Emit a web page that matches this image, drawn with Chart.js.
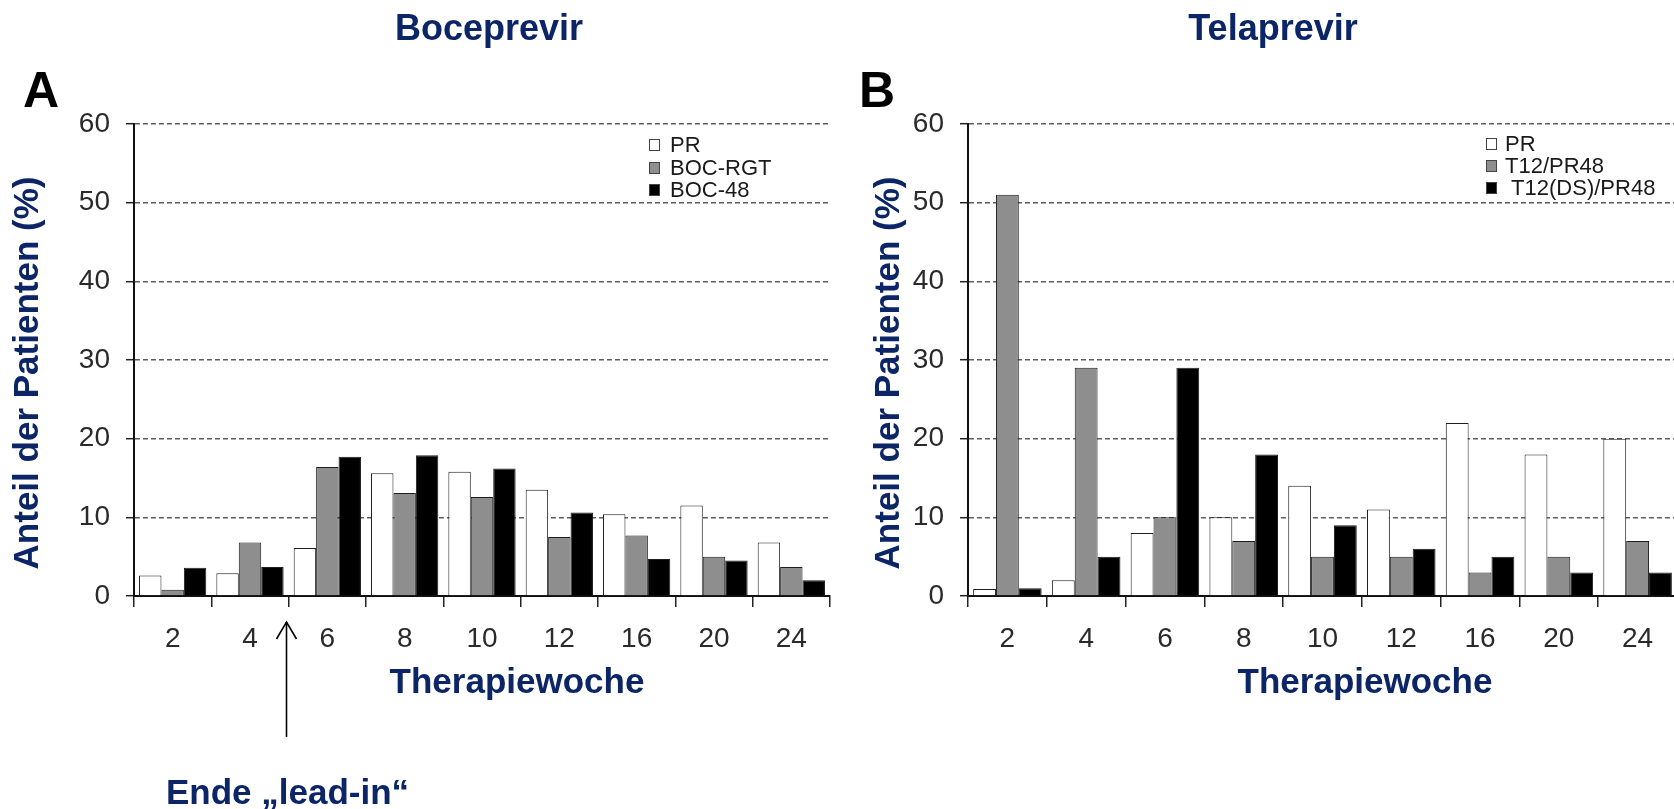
<!DOCTYPE html>
<html lang="de">
<head>
<meta charset="utf-8">
<title>Therapiewoche – Boceprevir / Telaprevir</title>
<script src="https://cdn.jsdelivr.net/npm/chart.js@4.4.1/dist/chart.umd.min.js"></script>
<style>
  html, body { margin: 0; padding: 0; width: 1674px; height: 809px; overflow: hidden; background: #fff; }
  canvas { position: absolute; top: 0; }
  #boc { left: 0; }
  #tel { left: 850px; }
</style>
</head>
<body>
<canvas id="boc" width="840" height="809"></canvas>
<canvas id="tel" width="836" height="809"></canvas>
<script>
// Week categories shared by both panels
const weeks = ['2', '4', '6', '8', '10', '12', '16', '20', '24'];
const yTicks = [0, 10, 20, 30, 40, 50, 60];

// Panel A – Boceprevir (share of patients, %)
const bocNames = ['PR', 'BOC-RGT', 'BOC-48'];
const bocPR  = [2.6, 2.9, 6.1, 15.6, 15.8, 13.5, 10.4, 11.5, 6.8];
const bocRGT = [0.8, 6.8, 16.4, 13.1, 12.6, 7.5, 7.7, 5.0, 3.7];
const boc48  = [3.6, 3.7, 17.7, 17.9, 16.2, 10.6, 4.7, 4.5, 2.0];

// Panel B – Telaprevir (share of patients, %)
const telNames = ['PR', 'T12/PR48', ' T12(DS)/PR48'];
const telPR  = [0.9, 2, 8, 10, 14, 11, 22, 18, 20];
const telT12 = [51, 29, 10, 7, 5, 5, 3, 5, 7];
const telDS  = [1, 5, 29, 18, 9, 6, 5, 3, 3];

const FAMILY = "'Liberation Sans', Arial, Helvetica, sans-serif";
const NAVY = '#0c2566';
const FILLS = ['#ffffff', '#8e8e8e', '#000000'];

// Free-standing captions (panel titles, letters, axis titles)
function captions(items) {
  return {
    id: 'captions',
    afterDraw(chart) {
      const ctx = chart.ctx;
      items.forEach(it => {
        ctx.save();
        ctx.font = it.font;
        ctx.fillStyle = it.color;
        ctx.textAlign = it.align || 'center';
        ctx.textBaseline = it.baseline || 'alphabetic';
        ctx.translate(it.x, it.y);
        if (it.rotation) ctx.rotate(it.rotation);
        ctx.fillText(it.text, 0, 0);
        ctx.restore();
      });
    }
  };
}

// Small legend placed inside the plot area
function insetLegend(o) {
  return {
    id: 'insetLegend',
    afterDatasetsDraw(chart) {
      const { ctx, chartArea } = chart;
      ctx.save();
      ctx.font = `22px ${FAMILY}`;
      ctx.textBaseline = 'middle';
      ctx.textAlign = 'left';
      chart.data.datasets.forEach((ds, i) => {
        const x = Math.round(chartArea.left + o.dx);
        const y = Math.round(chartArea.top + o.dy + i * o.gap);
        ctx.fillStyle = ds.backgroundColor;
        ctx.fillRect(x, y - 6, 11, 12);
        ctx.lineWidth = 1;
        ctx.strokeStyle = '#444';
        ctx.strokeRect(x + 0.5, y - 5.5, 10, 11);
        ctx.fillStyle = '#1a1a1a';
        ctx.fillText(ds.label, x + o.textGap, y + 1);
      });
      ctx.restore();
    }
  };
}

// Arrow marking the end of the lead-in phase, anchored between two categories
function leadInMarker(o) {
  return {
    id: 'leadInMarker',
    afterDraw(chart) {
      const { ctx, chartArea, scales: { x } } = chart;
      const px = Math.round((x.getPixelForValue(o.after) + x.getPixelForValue(o.after + 1)) / 2) - 3 + 0.5;
      const tip = chartArea.bottom + 26;
      const tail = chartArea.bottom + 141;
      ctx.save();
      ctx.strokeStyle = '#000';
      ctx.lineWidth = 1.6;
      ctx.beginPath();
      ctx.moveTo(px, tail);
      ctx.lineTo(px, tip);
      ctx.stroke();
      ctx.beginPath();
      ctx.moveTo(px - 10, tip + 17);
      ctx.lineTo(px, tip);
      ctx.lineTo(px + 10, tip + 17);
      ctx.stroke();
      ctx.font = `bold 35px ${FAMILY}`;
      ctx.fillStyle = NAVY;
      ctx.textAlign = 'center';
      ctx.textBaseline = 'alphabetic';
      ctx.fillText(o.text, px + 1, chartArea.bottom + 208);
      ctx.restore();
    }
  };
}

function panel(canvasId, cfg) {
  return new Chart(document.getElementById(canvasId), {
    type: 'bar',
    data: {
      labels: weeks,
      datasets: cfg.series.map((vals, i) => ({
        label: cfg.names[i],
        data: vals,
        backgroundColor: FILLS[i],
        borderColor: '#1e1e1e',
        borderWidth: 1,
        categoryPercentage: 0.87,
        barPercentage: 1.0
      }))
    },
    options: {
      responsive: false,
      animation: false,
      devicePixelRatio: 1,
      events: [],
      layout: { padding: { top: 124, left: 0, right: cfg.padRight, bottom: 100 } },
      plugins: { legend: { display: false }, tooltip: { enabled: false } },
      scales: {
        x: {
          grid: { display: true, drawOnChartArea: false, drawTicks: true, tickLength: 11,
                  color: '#222', lineWidth: 1.5, offset: true },
          border: { display: true, color: '#111', width: 2 },
          ticks: { font: { family: FAMILY, size: 28 }, color: '#2a2a2a', padding: 15, maxRotation: 0 },
          afterFit(scale) { scale.height = 113; }
        },
        y: {
          min: yTicks[0],
          max: yTicks[yTicks.length - 1],
          afterBuildTicks(scale) { scale.ticks = yTicks.map(v => ({ value: v })); },
          grid: { color: '#5e5e5e', lineWidth: 1.4, drawTicks: true, tickLength: 8,
                  tickColor: '#222', tickWidth: 1.5 },
          border: { display: true, color: '#111', width: 2, dash: [5, 3] },
          ticks: { font: { family: FAMILY, size: 28 }, color: '#2a2a2a', padding: 16 },
          afterFit(scale) { scale.width = cfg.axisWidth; }
        }
      }
    },
    plugins: cfg.plugins
  });
}

const titleFont = `bold 36px ${FAMILY}`;
const axisFont = `bold 35px ${FAMILY}`;
const letterFont = `bold 50px ${FAMILY}`;

panel('boc', {
  names: bocNames,
  series: [bocPR, bocRGT, boc48],
  axisWidth: 134,
  padRight: 10,
  plugins: [
    insetLegend({ dx: 515, dy: 21, gap: 22.5, textGap: 21 }),
    leadInMarker({ after: 1, text: 'Ende \u201Elead-in\u201C' }),
    captions([
      { text: 'Boceprevir', x: 489, y: 40, font: titleFont, color: NAVY },
      { text: 'A', x: 23, y: 107, font: letterFont, color: '#000', align: 'left' },
      { text: 'Anteil der Patienten (%)', x: 28, y: 373, font: axisFont, color: NAVY,
        rotation: -Math.PI / 2, baseline: 'middle' },
      { text: 'Therapiewoche', x: 517, y: 693, font: axisFont, color: NAVY }
    ])
  ]
});

panel('tel', {
  names: telNames,
  series: [telPR, telT12, telDS],
  axisWidth: 118,
  padRight: 9,
  plugins: [
    insetLegend({ dx: 518, dy: 20, gap: 22, textGap: 19 }),
    captions([
      { text: 'Telaprevir', x: 423, y: 40, font: titleFont, color: NAVY },
      { text: 'B', x: 9, y: 107, font: letterFont, color: '#000', align: 'left' },
      { text: 'Anteil der Patienten (%)', x: 39, y: 373, font: axisFont, color: NAVY,
        rotation: -Math.PI / 2, baseline: 'middle' },
      { text: 'Therapiewoche', x: 515, y: 693, font: axisFont, color: NAVY }
    ])
  ]
});
</script>
</body>
</html>
